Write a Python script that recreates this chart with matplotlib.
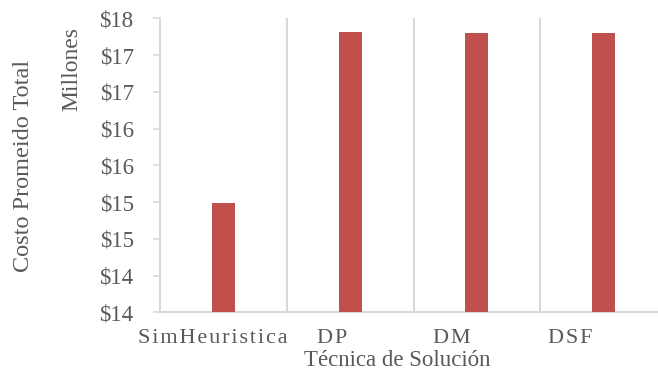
import matplotlib.pyplot as plt
import numpy as np

# Data (millions)
techniques = ["SimHeuristica", "DP", "DM", "DSF"]
avg_cost = [15.49, 17.81, 17.80, 17.80]
y_ticks = [14.0, 14.5, 15.0, 15.5, 16.0, 16.5, 17.0, 17.5, 18.0]
y_tick_labels = ["$14", "$14", "$15", "$15", "$16", "$16", "$17", "$17", "$18"]

text_color = "#595959"
grid_color = "#D9D9D9"
bar_color = "#C0504D"

plt.rcParams["font.family"] = ["Liberation Serif", "DejaVu Serif"]

fig = plt.figure(figsize=(6.58, 3.72), dpi=100)
ax = fig.add_axes([160 / 658, 0.1605, 507 / 658, 0.7903])

x = np.arange(len(techniques))
ax.bar(x, avg_cost, width=0.18, color=bar_color, zorder=3)

ax.set_xlim(-0.5, len(techniques) - 0.5)
ax.set_ylim(14, 18)
ax.set_yticks(y_ticks)
ax.set_yticklabels(y_tick_labels, fontsize=16.5, color=text_color)
ax.tick_params(axis="y", length=5, width=1.2, color=grid_color, pad=14)

# category labels (letter spaced like the original)
ax.set_xticks(x * 0.94 - 0.08)
ax.set_xticklabels(["\u200a".join(t) for t in techniques], fontsize=16, color=text_color)
ax.tick_params(axis="x", length=0, pad=12)

# vertical separators between categories
for b in np.arange(len(techniques) - 1) + 0.5:
    ax.axvline(b, color=grid_color, lw=1.5, zorder=1)

for s in ["top", "right"]:
    ax.spines[s].set_visible(False)
for s in ["left", "bottom"]:
    ax.spines[s].set_color(grid_color)
    ax.spines[s].set_linewidth(1.5)

fig.text(24 / 658, 1 - 166 / 372, "Costo Promeido Total", rotation=90,
         ha="center", va="center", fontsize=17.5, color=text_color)
fig.text(72 / 658, 1 - 69 / 372, "Millones", rotation=90,
         ha="center", va="center", fontsize=17, color=text_color)
fig.text(397 / 658, 1 - 360 / 372, "Técnica de Solución",
         ha="center", va="center", fontsize=16.5, color=text_color)

fig.savefig("out.png", dpi=100)
